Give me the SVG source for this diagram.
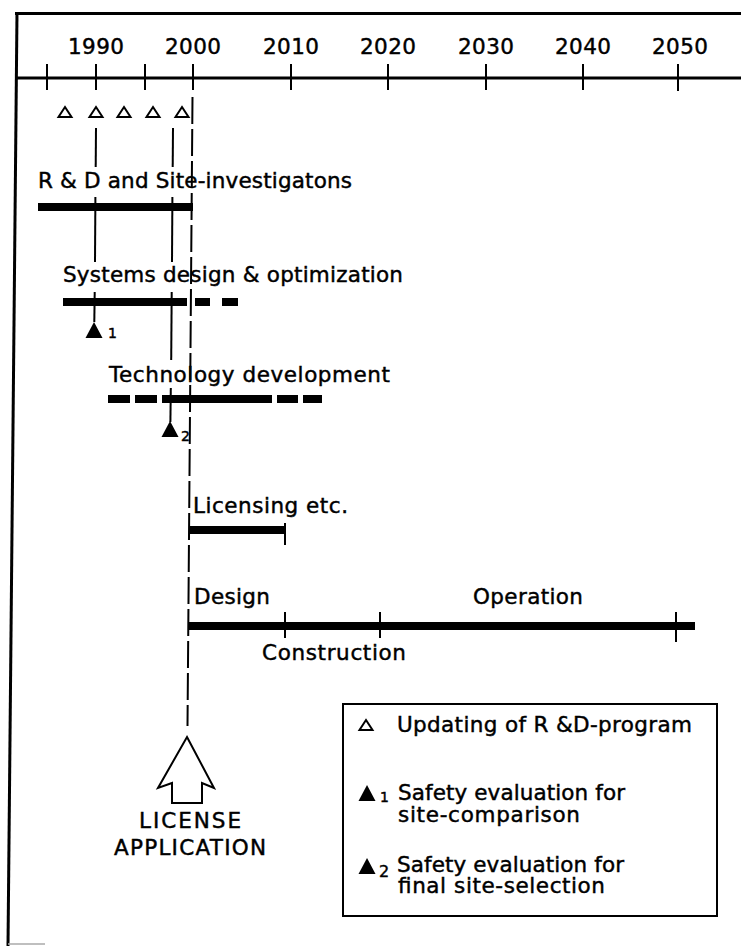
<svg xmlns="http://www.w3.org/2000/svg" width="741" height="946" viewBox="0 0 741 946">
<defs>
<style>
text{font-family:"DejaVu Sans","Liberation Sans",sans-serif;fill:#000;stroke:#000;stroke-width:0.45}
.t{font-size:21.5px}
.sub{font-size:14px}
.bar{stroke:#000;stroke-width:8;fill:none}
.thin{stroke:#000;stroke-width:2;fill:none}
.frame{stroke:#000;stroke-width:3;fill:none}
.dash{stroke:#000;stroke-width:2;stroke-dasharray:27 5;fill:none}
.open{fill:#fff;stroke:#000;stroke-width:2;stroke-linejoin:miter}
.solid{fill:#000}
</style>
<polygon id="otri" class="open" points="0,1 6.5,11 -6.5,11"/>
<polygon id="ftri" class="solid" points="0,0 8.5,16 -8.5,16"/>
</defs>
<rect width="741" height="946" fill="#fff"/>

<g id="frame">
<line class="frame" x1="15" y1="13.5" x2="741" y2="13.5"/>
<line class="frame" x1="17" y1="12" x2="8" y2="946"/>
<line x1="8" y1="944" x2="45" y2="944" stroke="#aaa" stroke-width="1.5"/>
</g>

<g id="time-axis">
<line class="frame" x1="16" y1="78" x2="741" y2="78"/>
<g class="thin">
<line x1="47" y1="64" x2="47" y2="90"/>
<line x1="96" y1="64" x2="96" y2="90"/>
<line x1="145" y1="64" x2="145" y2="90"/>
<line x1="193" y1="64" x2="193" y2="90"/>
<line x1="291" y1="64" x2="291" y2="90"/>
<line x1="388" y1="64" x2="388" y2="90"/>
<line x1="486" y1="64" x2="486" y2="90"/>
<line x1="583" y1="64" x2="583" y2="90"/>
<line x1="678" y1="64" x2="678" y2="91"/>
</g>
<g class="t" text-anchor="middle">
<text x="96" y="54" textLength="56">1990</text>
<text x="193" y="54" textLength="56">2000</text>
<text x="291" y="54" textLength="56">2010</text>
<text x="388" y="54" textLength="56">2020</text>
<text x="486" y="54" textLength="56">2030</text>
<text x="583" y="54" textLength="56">2040</text>
<text x="680" y="54" textLength="56">2050</text>
</g>
</g>

<g id="program-updates">
<use href="#otri" x="65" y="106"/>
<use href="#otri" x="96" y="106"/>
<use href="#otri" x="124" y="106"/>
<use href="#otri" x="153" y="106"/>
<use href="#otri" x="182" y="106"/>
</g>

<g id="rd-site">
<text class="t" x="38" y="188" textLength="314">R &amp; D and Site-investigatons</text>
<line class="bar" x1="38" y1="207" x2="193" y2="207"/>
</g>

<g id="systems-design">
<text class="t" x="63" y="282" textLength="340">Systems design &amp; optimization</text>
<line class="bar" x1="63" y1="302" x2="187" y2="302"/>
<line class="bar" x1="195" y1="302" x2="210" y2="302"/>
<line class="bar" x1="222" y1="302" x2="238" y2="302"/>
<use href="#ftri" x="94" y="322"/>
<text class="sub" x="108" y="338">1</text>
</g>

<g id="technology-development">
<text class="t" x="109" y="382" textLength="281">Technology development</text>
<line class="bar" x1="108" y1="399" x2="130" y2="399"/>
<line class="bar" x1="135" y1="399" x2="157" y2="399"/>
<line class="bar" x1="162" y1="399" x2="272" y2="399"/>
<line class="bar" x1="277" y1="399" x2="298" y2="399"/>
<line class="bar" x1="303" y1="399" x2="322" y2="399"/>
<use href="#ftri" x="170" y="421"/>
<text class="sub" x="181" y="441">2</text>
</g>

<g id="licensing">
<text class="t" x="193" y="513" textLength="155">Licensing etc.</text>
<line class="bar" x1="189" y1="530" x2="285" y2="530"/>
<line class="thin" x1="285" y1="523" x2="285" y2="545"/>
</g>

<g id="plant">
<text class="t" x="194" y="604" textLength="76">Design</text>
<text class="t" x="473" y="604" textLength="110">Operation</text>
<line class="bar" x1="189" y1="626" x2="695" y2="626"/>
<line class="thin" x1="285" y1="612" x2="285" y2="638"/>
<line class="thin" x1="380" y1="612" x2="380" y2="638"/>
<line class="thin" x1="676" y1="612" x2="676" y2="642"/>
<text class="t" x="262" y="660" textLength="144">Construction</text>
</g>

<g id="connectors">
<g class="thin">
<line x1="96" y1="128" x2="95.7" y2="167"/>
<line x1="95.4" y1="197" x2="95" y2="262"/>
<line x1="94.7" y1="292" x2="94.3" y2="322"/>
<line x1="173" y1="128" x2="172.7" y2="167"/>
<line x1="172.4" y1="197" x2="172" y2="262"/>
<line x1="171.7" y1="292" x2="171.2" y2="360"/>
<line x1="170.8" y1="388" x2="170.4" y2="422"/>
</g>
<line class="dash" x1="192.5" y1="97" x2="187.5" y2="726"/>
</g>

<g id="license-application">
<polygon points="187,737 214,788 202,783 202,803 172,803 172,783 158,788" fill="#fff" stroke="#000" stroke-width="2" stroke-linejoin="miter"/>
<text class="t" x="190" y="828" text-anchor="middle" textLength="102">LICENSE</text>
<text class="t" x="190" y="855" text-anchor="middle" textLength="152">APPLICATION</text>
</g>

<g id="legend">
<rect x="343" y="704" width="374" height="212" fill="none" stroke="#000" stroke-width="2"/>
<use href="#otri" x="366" y="719"/>
<text class="t" x="397" y="732" textLength="295">Updating of R &amp;D-program</text>
<use href="#ftri" x="367" y="785"/>
<text class="sub" x="380" y="802">1</text>
<text class="t" x="398" y="800" textLength="227">Safety evaluation for</text>
<text class="t" x="398" y="822" textLength="182">site-comparison</text>
<use href="#ftri" x="367" y="858"/>
<text class="sub" x="379" y="877" style="font-size:16px">2</text>
<text class="t" x="397" y="872" textLength="227">Safety evaluation for</text>
<text class="t" x="398" y="893" textLength="207">final site-selection</text>
</g>
</svg>
